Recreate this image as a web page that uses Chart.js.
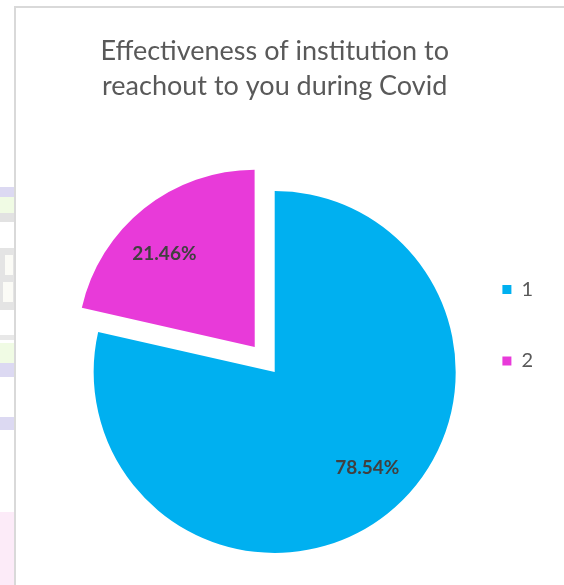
<!DOCTYPE html>
<html>
<head>
<meta charset="utf-8">
<script src="https://cdn.jsdelivr.net/npm/chart.js@4/dist/chart.umd.min.js"></script>
<style>
  html, body { margin: 0; padding: 0; background: #fff; overflow: hidden; }
  #wrap { position: relative; width: 564px; height: 585px; }
  #frame { position: absolute; left: 14px; top: 6px; width: 600px; height: 600px;
           border-left: 2px solid #d9d9d9; border-top: 2px solid #d9d9d9; }
  .band { position: absolute; left: 0; width: 14px; }
  canvas { position: absolute; left: 0; top: 0; }
</style>
</head>
<body>
<div id="wrap">
  <!-- faint bits of the page behind the chart -->
  <div class="band" style="top:187px;height:10px;background:#dcd9f2"></div>
  <div class="band" style="top:197px;height:16px;background:#f0fbe4"></div>
  <div class="band" style="top:213px;height:9px;background:#e2e2e2"></div>
  <div class="band" style="top:248px;height:62px;background:#e4e4e4"></div>
  <div class="band" style="top:255px;height:20px;left:5px;width:8px;background:#fbfbf6"></div>
  <div class="band" style="top:282px;height:20px;left:3px;width:10px;background:#fbfbf6"></div>
  <div class="band" style="top:335px;height:5px;background:#e8e8e8"></div>
  <div class="band" style="top:343px;height:20px;background:#f0fbe4"></div>
  <div class="band" style="top:363px;height:14px;background:#dcd9f2"></div>
  <div class="band" style="top:417px;height:13px;background:#dcd9f2"></div>
  <div class="band" style="top:512px;height:73px;background:#fcebf8"></div>
  <div id="frame"></div>
  <canvas id="pie" width="564" height="585"></canvas>
</div>
<script>
const titleLines = ["Effectiveness of institution to", "reachout to you during Covid"];
const categories = ["1", "2"];
const shares = [78.54, 21.46];
const sliceColors = ["#00B0F0", "#E83AD9"];
const explode = [0, 128];

// Excel draws the pulled-out slice a bit smaller than the rest of the pie
const explodedTrim = 4.5;
// Excel puts the data labels a little off the slice bisector
const labelRadius = 0.735;
const labelAngleShift = -5.5 * Math.PI / 180;

const trimExploded = {
  id: "trimExploded",
  afterDatasetUpdate(chart, args) {
    args.meta.data.forEach(arc => {
      if (arc.options && arc.options.offset) arc.outerRadius -= explodedTrim;
    });
  }
};

const sliceLabels = {
  id: "sliceLabels",
  afterDatasetsDraw(chart) {
    const ctx = chart.ctx;
    const meta = chart.getDatasetMeta(0);
    ctx.save();
    ctx.font = "bold 19px Lato";
    ctx.fillStyle = "#404040";
    ctx.textAlign = "center";
    ctx.textBaseline = "middle";
    meta.data.forEach((arc, i) => {
      const { x, y, startAngle, endAngle, outerRadius } = arc.getProps(["x", "y", "startAngle", "endAngle", "outerRadius"], true);
      const mid = (startAngle + endAngle) / 2;
      const shift = (arc.options.offset || 0) / 4;
      const cx = x + Math.cos(mid) * shift;
      const cy = y + Math.sin(mid) * shift;
      const a = mid + labelAngleShift;
      ctx.fillText(shares[i].toFixed(2) + "%", cx + Math.cos(a) * outerRadius * labelRadius, cy + Math.sin(a) * outerRadius * labelRadius);
    });
    ctx.restore();
  }
};

new Chart(document.getElementById("pie"), {
  type: "pie",
  data: {
    labels: categories,
    datasets: [{
      data: shares,
      backgroundColor: sliceColors,
      borderWidth: 0,
      offset: explode
    }]
  },
  options: {
    responsive: false,
    animation: false,
    radius: 181,
    layout: { padding: { left: 98.5, right: 21, top: 0, bottom: 0 } },
    plugins: {
      tooltip: { enabled: false },
      title: {
        display: true,
        fullSize: false,
        text: titleLines,
        color: "#595959",
        font: { family: "Lato", size: 27, weight: "normal", lineHeight: 1.296 },
        padding: { top: 33.75, bottom: 55.25 }
      },
      legend: {
        position: "right",
        align: "start",
        title: { display: true, text: " ", font: { size: 9, lineHeight: 1 }, padding: { top: 219, bottom: 0 } },
        labels: {
          boxWidth: 9,
          boxHeight: 9,
          padding: 51.5,
          color: "#595959",
          font: { family: "Lato", size: 20 }
        }
      }
    }
  },
  plugins: [trimExploded, sliceLabels]
});
</script>
</body>
</html>
